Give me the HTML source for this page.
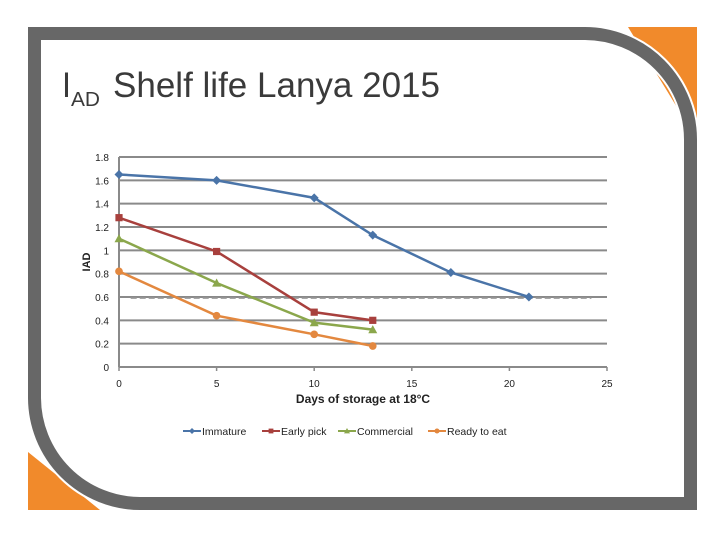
<!DOCTYPE html>
<html><head><meta charset="utf-8"><style>
body{margin:0;width:720px;height:540px;background:#fff;overflow:hidden;font-family:"Liberation Sans",sans-serif}
svg text{font-family:"Liberation Sans",sans-serif}
</style></head><body>
<svg width="720" height="540">
<polygon points="628,27 697,27 697,140" fill="#f18a2b"/>
<polygon points="28,452 28,510 100,510" fill="#f18a2b"/>
<path d="M34.5,33.5 H585 A106,106 0 0 1 690.5,140 V503.5 H140 A106,106 0 0 1 34.5,398 Z" fill="none" stroke="#fff" stroke-width="17"/>
<path d="M34.5,33.5 H585 A106,106 0 0 1 690.5,140 V503.5 H140 A106,106 0 0 1 34.5,398 Z" fill="none" stroke="#676767" stroke-width="13"/>
<g fill="#3a3a3a">
<text x="62" y="97" font-size="35" textLength="9" lengthAdjust="spacingAndGlyphs">I</text>
<text x="71" y="106" font-size="20" textLength="29" lengthAdjust="spacingAndGlyphs">AD</text>
<text x="113" y="97" font-size="35" textLength="327" lengthAdjust="spacingAndGlyphs">Shelf life Lanya 2015</text>
</g>
<g id="chart"></g>
</svg>
<script>
const xTicks=[0,5,10,15,20,25];
const yTicks=[0,0.2,0.4,0.6,0.8,1,1.2,1.4,1.6,1.8];
const yTickLabels=["0","0.2","0.4","0.6","0.8","1","1.2","1.4","1.6","1.8"];
const seriesNames=["Immature","Early pick","Commercial","Ready to eat"];
const immatureX=[0,5,10,13,17,21];
const immatureY=[1.65,1.6,1.45,1.13,0.81,0.6];
const earlyX=[0,5,10,13];
const earlyY=[1.28,0.99,0.47,0.4];
const commercialX=[0,5,10,13];
const commercialY=[1.1,0.72,0.38,0.32];
const readyX=[0,5,10,13];
const readyY=[0.82,0.44,0.28,0.18];
const threshold=[0.59];
const NS="http://www.w3.org/2000/svg";
const g=document.getElementById('chart');
const X0=119,X1=607,Y0=367,Y1=157;
const sx=v=>X0+v/25*(X1-X0);
const sy=v=>Y0-v/1.8*(Y0-Y1);
function mk(t,a,p){const e=document.createElementNS(NS,t);for(const k in a)e.setAttribute(k,a[k]);(p||g).appendChild(e);return e;}
yTicks.forEach((v,i)=>{
 if(v>0){const l=mk('line',{x1:X0,x2:X1,y1:sy(v),y2:sy(v),stroke:'#8a8a8a','stroke-width':2});
 
 }
 const t=mk('text',{x:X0-10,y:sy(v)+4,'font-size':10,'text-anchor':'end',fill:'#222'});t.textContent=yTickLabels[i];
 
 
});
const ax=mk('line',{x1:X0,x2:X0,y1:Y1,y2:Y0,stroke:'#8a8a8a','stroke-width':2});


const bx=mk('line',{x1:X0,x2:X1,y1:Y0,y2:Y0,stroke:'#8a8a8a','stroke-width':2});


xTicks.forEach(v=>{
 const tk=mk('line',{x1:sx(v),x2:sx(v),y1:Y0,y2:Y0+4,stroke:'#8a8a8a','stroke-width':1.5});
 
 
 const t=mk('text',{x:sx(v),y:Y0+20,'font-size':10,'text-anchor':'middle',fill:'#222'});t.textContent=v;
 
 
});
const th=mk('line',{x1:sx(0.6),x2:sx(24.2),y1:sy(threshold[0]),y2:sy(threshold[0]),stroke:'#999','stroke-width':1.5,'stroke-dasharray':'6,3'});


const yt=mk('text',{x:90,y:262,'font-size':11,'font-weight':'bold','text-anchor':'middle',fill:'#222',transform:'rotate(-90 90 262)'});yt.textContent='IAD';


const xt=mk('text',{x:363,y:403,'font-size':12,'font-weight':'bold','text-anchor':'middle',fill:'#222'});xt.textContent='Days of storage at 18°C';


const colors=['#4a74a8','#a8403d','#8ba74c','#e3883f'];
const shapes=['diamond','square','triangle','circle'];
function marker(p,x,y,s,c,sz){
 let e;
 if(s==='diamond')e=mk('polygon',{points:`${x},${y-sz} ${x+sz},${y} ${x},${y+sz} ${x-sz},${y}`,fill:c},p);
 else if(s==='square')e=mk('rect',{x:x-sz*0.8,y:y-sz*0.8,width:sz*1.6,height:sz*1.6,fill:c},p);
 else if(s==='triangle')e=mk('polygon',{points:`${x},${y-sz} ${x+sz},${y+sz*0.8} ${x-sz},${y+sz*0.8}`,fill:c},p);
 else e=mk('circle',{cx:x,cy:y,r:sz*0.85,fill:c},p);
 return e;
}
const xs=[immatureX,earlyX,commercialX,readyX],ys=[immatureY,earlyY,commercialY,readyY];
xs.forEach((xa,i)=>{
 const sg=mk('g',{});
 
 
 const pl=mk('polyline',{points:xa.map((x,j)=>sx(x)+','+sy(ys[i][j])).join(' '),fill:'none',stroke:colors[i],'stroke-width':2.5},sg);
 
 
 xa.forEach((x,j)=>{const m=marker(sg,sx(x),sy(ys[i][j]),shapes[i],colors[i],4.5);
  
  });
});
const lx=[183,262,338,428];
seriesNames.forEach((n,i)=>{
 const lg=mk('g',{});
 
 
 mk('line',{x1:lx[i],x2:lx[i]+18,y1:431,y2:431,stroke:colors[i],'stroke-width':2},lg);
 marker(lg,lx[i]+9,431,shapes[i],colors[i],3);
 const t=mk('text',{x:lx[i]+19,y:435,'font-size':10.5,fill:'#222'},lg);t.textContent=n;
});
</script>
</body></html>
